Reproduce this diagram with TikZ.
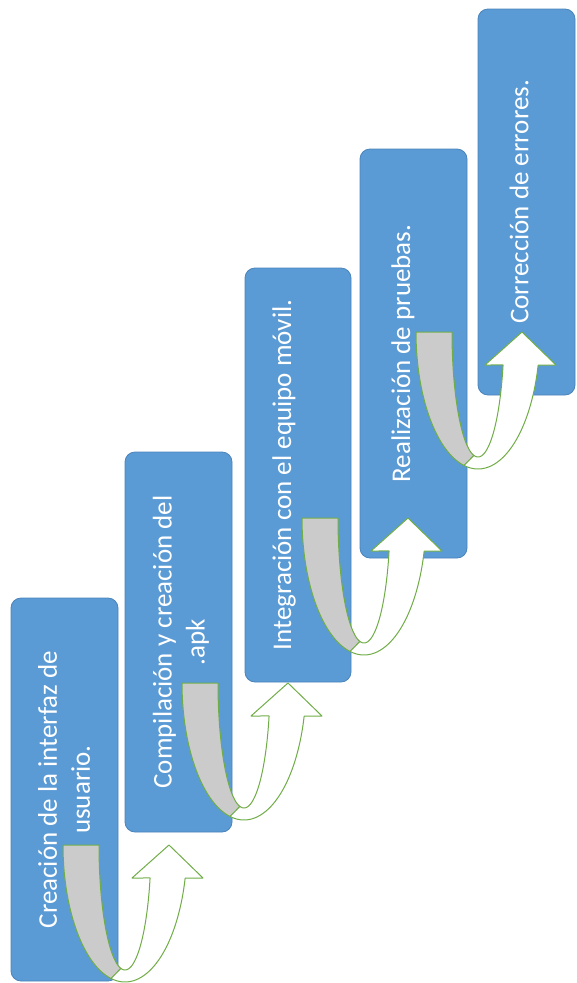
\documentclass[tikz,border=0pt]{standalone}
\usepackage{fontspec}
\setmainfont{Carlito}
\definecolor{boxblue}{HTML}{5B9BD5}
\definecolor{boxedge}{HTML}{4A84BA}
\definecolor{arrowgreen}{HTML}{70AD47}
\definecolor{ribbongray}{HTML}{CBCBCB}
\tikzset{
  stepbox/.style={draw=boxedge, fill=boxblue, rounded corners=10pt, line width=0.8pt, inner sep=0pt},
  steptext/.style={rotate=90, text=white, align=center, font=\fontsize{27}{33}\selectfont, inner sep=0pt},
  ribbonback/.style={fill=ribbongray, draw=arrowgreen, line width=1pt, line join=round},
  ribbonfront/.style={fill=white, draw=arrowgreen, line width=1pt, line join=round},
}
\newcommand{\stepArrow}[3]{%
  \begin{scope}[shift={(#2,#3)}]
    \coordinate (#1-start) at (18,0);
    \coordinate (#1-tip) at (106,0);
    \path[ribbonback] (0,0) -- plot[domain=180:103,samples=40] ({62+62*cos(\x)},{137*sin(\x)}) -- plot[domain=99:180,samples=40] ({62+26*cos(\x)},{125*sin(\x)}) -- cycle;
    \path[ribbonfront] plot[domain=103:14,samples=40] ({62+62*cos(\x)},{137*sin(\x)}) -- (140,33) -- (106,0) -- (69,33) -- plot[domain=15.3:99,samples=40] ({62+26*cos(\x)},{125*sin(\x)}) -- cycle;
  \end{scope}}
\begin{document}
\begin{tikzpicture}[x=1pt,y=-1pt]
\useasboundingbox (0,0) rectangle (577,983);
% boxes
\node[stepbox, minimum width=107, minimum height=383] (b1) at (64.5,789.5) {};
\node[stepbox, minimum width=107, minimum height=380] (b2) at (178.5,642) {};
\node[stepbox, minimum width=106, minimum height=414] (b3) at (298,475) {};
\node[stepbox, minimum width=107, minimum height=409] (b4) at (413.5,353.5) {};
\node[stepbox, minimum width=97, minimum height=386] (b5) at (526.5,202) {};
% texts
\node[steptext] (t1) at (64,789.5) {Creación de la interfaz de\\usuario.};
\node[steptext] (t2) at (181,642) {Compilación y creación del\\.apk};
\node[steptext] (t3) at (284,475) {Integración con el equipo móvil.};
\node[steptext] (t4) at (403,353.5) {Realización de pruebas.};
\node[steptext] (t5) at (519,202) {Corrección de errores.};
% arrows
\stepArrow{a1}{63}{845}
\stepArrow{a2}{182}{683}
\stepArrow{a3}{302}{518}
\stepArrow{a4}{416}{332}
\end{tikzpicture}
\end{document}
